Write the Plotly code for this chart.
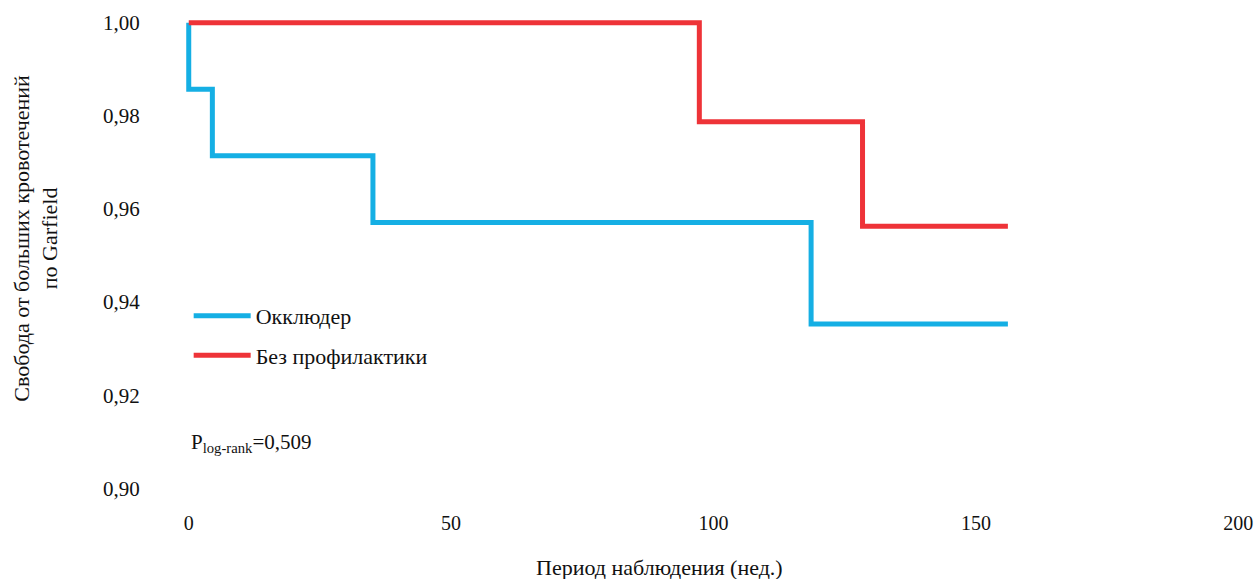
import plotly.graph_objects as go

# Data (Kaplan-Meier style steps)
occ_x = [0, 0, 4.5, 35.1, 118.6, 156.1]
occ_y = [1.0, 0.9857, 0.9714, 0.9571, 0.9353, 0.9353]
nop_x = [0, 97.3, 128.4, 156.1]
nop_y = [1.0, 0.9787, 0.9563, 0.9563]
series_names = ["Окклюдер", "Без профилактики"]
x_ticks = [0, 50, 100, 150, 200]
y_ticks = [0.90, 0.92, 0.94, 0.96, 0.98, 1.00]
y_tick_text = ["0,90", "0,92", "0,94", "0,96", "0,98", "1,00"]

FONT = "Liberation Serif"
BLUE = "#15AFE4"
RED = "#EE3338"

fig = go.Figure()
fig.add_trace(go.Scatter(x=occ_x, y=occ_y, mode="lines", line=dict(color=BLUE, width=5, shape="hv"),
                         name=series_names[0], legendgroup="a", hoverinfo="skip"))
fig.add_trace(go.Scatter(x=nop_x, y=nop_y, mode="lines", line=dict(color=RED, width=5, shape="hv"),
                         name=series_names[1], legendgroup="b", hoverinfo="skip"))

fig.update_layout(
    width=1257, height=579,
    margin=dict(l=173, r=3, t=18, b=86),
    paper_bgcolor="white", plot_bgcolor="white",
    font=dict(family=FONT, size=20, color="#111111"),
    showlegend=True,
    legend=dict(x=0.0145, y=0.417, xanchor="left", yanchor="top", bgcolor="rgba(0,0,0,0)",
                font=dict(family=FONT, size=22, color="#111111"), tracegroupgap=8,
                itemwidth=57, traceorder="grouped"),
    xaxis=dict(range=[-3, 203], tickvals=x_ticks, ticktext=[str(v) for v in x_ticks],
               showgrid=False, zeroline=False, showline=False,
               ticks="outside", ticklen=12, tickcolor="rgba(0,0,0,0)",
               tickfont=dict(family=FONT, size=20)),
    yaxis=dict(range=[0.899, 1.001], tickvals=y_ticks, ticktext=y_tick_text,
               showgrid=False, zeroline=False, showline=False,
               ticks="outside", ticklen=28, tickcolor="rgba(0,0,0,0)",
               tickfont=dict(family=FONT, size=21)),
    annotations=[
        dict(text="Свобода от больших кровотечений<br>по Garfield", textangle=-90,
             xref="paper", yref="paper", x=-0.127, y=0.537, xanchor="center", yanchor="middle",
             showarrow=False, font=dict(family=FONT, size=22)),
        dict(text="Период наблюдения (нед.)", xref="paper", yref="paper", x=0.45, y=-0.156,
             xanchor="center", yanchor="middle", showarrow=False, font=dict(family=FONT, size=22)),
        dict(text="P<sub>log-rank</sub>=0,509", xref="paper", yref="paper", x=0.0148, y=0.1055,
             xanchor="left", yanchor="middle", showarrow=False, font=dict(family=FONT, size=21)),
    ],
)

fig.write_html("out.html", config={"displayModeBar": False},
               post_script="document.body.style.margin='0';document.documentElement.style.overflow='hidden';")
